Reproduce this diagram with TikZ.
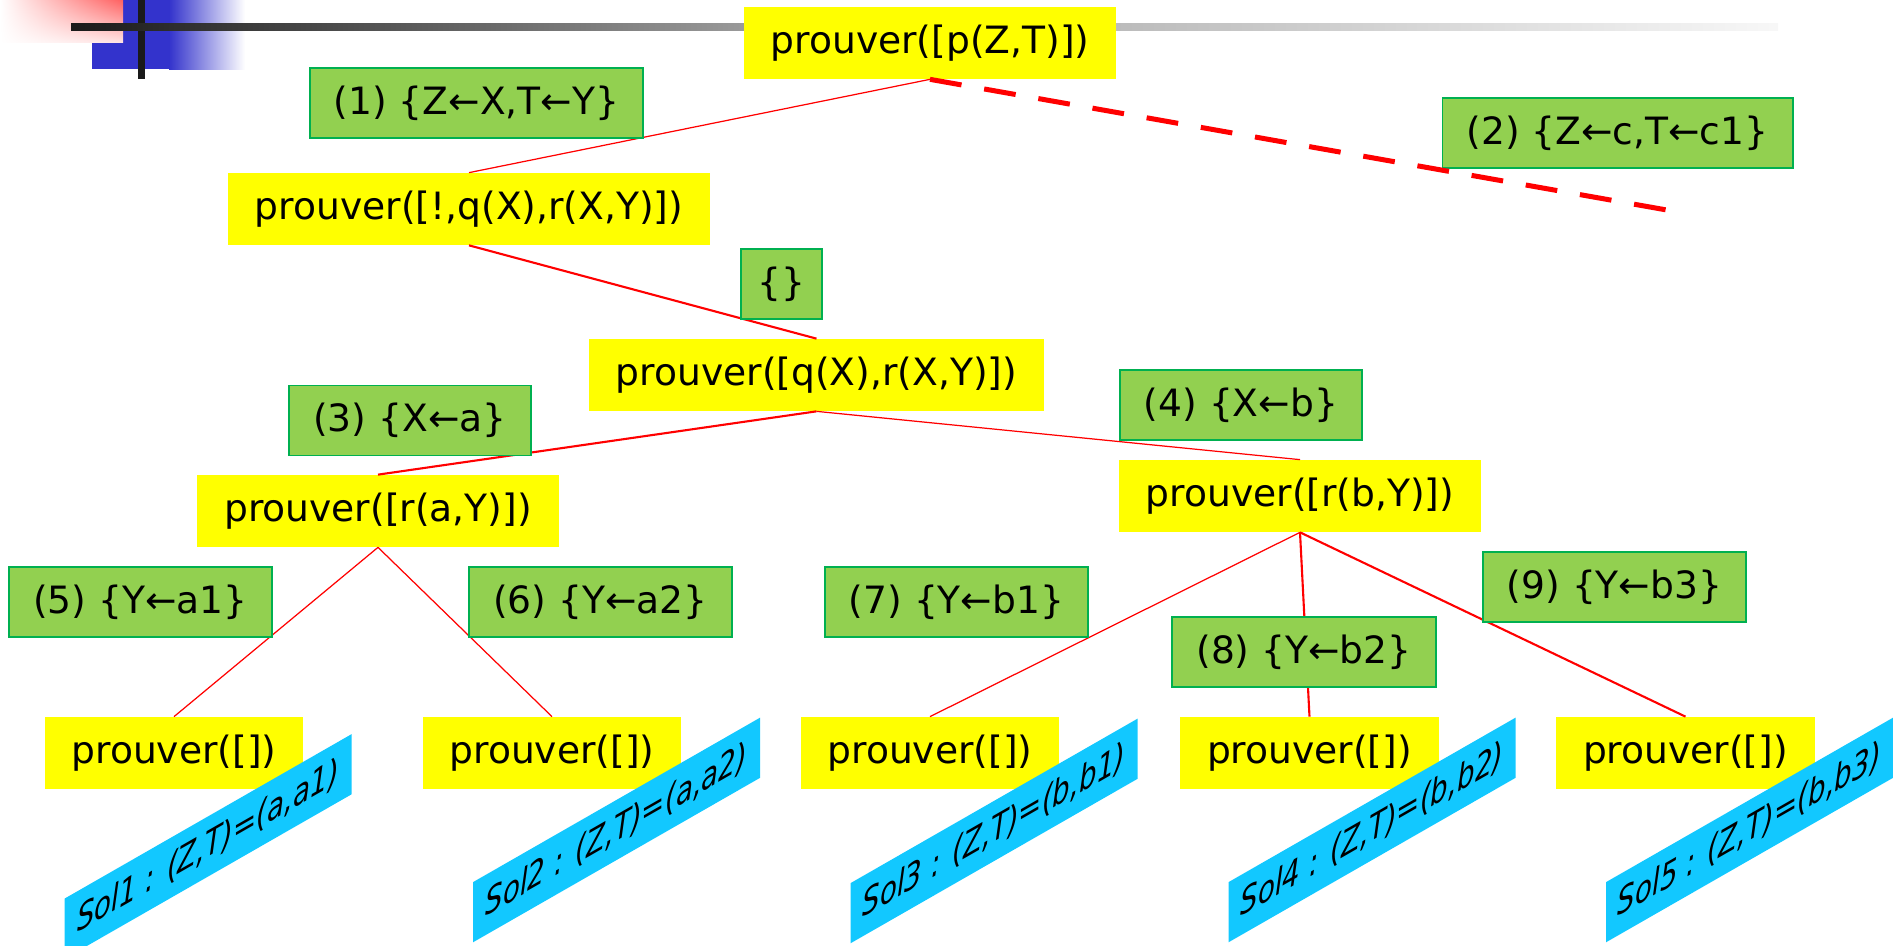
\documentclass[tikz,border=0pt]{standalone}
\usepackage{fontspec}
\setmainfont{DejaVu Sans}
\usetikzlibrary{shadings}
\definecolor{goalyellow}{HTML}{FFFF00}
\definecolor{substgreen}{HTML}{92D050}
\definecolor{substline}{HTML}{00B050}
\definecolor{solblue}{HTML}{12C8FF}
\definecolor{cutred}{HTML}{FF0000}
\definecolor{logoblue}{HTML}{3333CC}
\definecolor{bar}{HTML}{1A1A1A}
\definecolor{barmid}{HTML}{999999}

\begin{document}
\begin{tikzpicture}[
  goal/.style={fill=goalyellow,inner xsep=0.54cm,inner ysep=0pt,
    minimum height=1.44cm,font=\fontsize{21.4}{26}\selectfont},
  subst/.style={fill=substgreen,draw=substline,line width=1.1pt,
    inner xsep=0.48cm,inner ysep=0pt,minimum height=1.4cm,
    font=\fontsize{21.4}{26}\selectfont},
  sol/.style={fill=solblue,inner sep=0pt,minimum width=5.74cm,
    minimum height=0.94cm,yslant=0.573,yscale=1.28,
    font=\itshape\fontsize{15.8}{19}\selectfont},
  branch/.style={draw=cutred,line width=0.7pt},
  branch thick/.style={draw=cutred,line width=1.2pt},
  cutbranch/.style={draw=cutred,line width=2.85pt,
    dash pattern=on 18.2pt off 13.1pt}]
  \useasboundingbox (0,0) rectangle (37.86,-18.92);

  % slide logo and title bar
  \fill[logoblue] (1.84,0) rectangle (3.38,-1.38);
  \shade[upper left=white,upper right=red!62,lower left=white,
    lower right=red!10] (0,0) rectangle (2.46,-0.86);
  \shade[left color=logoblue,right color=white]
    (3.38,0) rectangle (4.9,-1.4);
  \fill[bar] (2.76,0) rectangle (2.9,-1.58);
  \shade[left color=bar,right color=barmid]
    (1.42,-0.48) rectangle (14.82,-0.62);
  \shade[left color=barmid,right color=white!97!black]
    (14.82,-0.48) rectangle (35.56,-0.62);

  % goals of the resolution tree
  \node[goal] (p0) at (18.6,-0.86) {prouver([p(Z,T)])};
  \node[goal] (p1) at (9.38,-4.18) {prouver([!,q(X),r(X,Y)])};
  \node[goal] (p2) at (16.33,-7.5) {prouver([q(X),r(X,Y)])};
  \node[goal] (p3) at (7.56,-10.22) {prouver([r(a,Y)])};
  \node[goal] (p4) at (26.0,-9.92) {prouver([r(b,Y)])};
  \foreach \n/\x in {1/3.48,2/11.04,3/18.6,4/26.19,5/33.71}
    \node[goal] (e\n) at (\x,-15.06) {prouver([])};

  \draw[branch] (p0.south) -- (p1.north);
  \draw[branch thick] (p1.south) -- (p2.north);
  \draw[branch thick] (p2.south) -- (p3.north);
  \draw[branch] (p2.south) -- (p4.north);
  \draw[branch] (p3.south) -- (e1.north);
  \draw[branch] (p3.south) -- (e2.north);
  \draw[branch] (p4.south) -- (e3.north);
  \draw[branch thick] (p4.south) -- (e4.north);
  \draw[branch thick] (p4.south) -- (e5.north);

  % substitutions
  \node[subst] (s1) at (9.53,-2.06) {(1) \{Z←X,T←Y\}};
  \node[subst] (s2) at (32.35,-2.66) {(2) \{Z←c,T←c1\}};
  \node[subst,inner xsep=0.33cm] (s0) at (15.63,-5.68) {\{\}};
  \node[subst] (s3) at (8.2,-8.41) {(3) \{X←a\}};
  \node[subst] (s4) at (24.82,-8.1) {(4) \{X←b\}};
  \node[subst] (s5) at (2.81,-12.04) {(5) \{Y←a1\}};
  \node[subst] (s6) at (12.01,-12.04) {(6) \{Y←a2\}};
  \node[subst] (s7) at (19.13,-12.04) {(7) \{Y←b1\}};
  \node[subst] (s8) at (26.08,-13.04) {(8) \{Y←b2\}};
  \node[subst] (s9) at (32.29,-11.74) {(9) \{Y←b3\}};

  % branch cut by !
  \coordinate (cut) at (33.56,-4.24);
  \draw[cutbranch] (p0.south) -- (cut);

  % solutions
  \node[sol] (sol1) at (4.16,-16.93) {Sol1 : (Z,T)=(a,a1)};
  \node[sol] (sol2) at (12.33,-16.6) {Sol2 : (Z,T)=(a,a2)};
  \node[sol] (sol3) at (19.88,-16.62) {Sol3 : (Z,T)=(b,b1)};
  \node[sol] (sol4) at (27.44,-16.6) {Sol4 : (Z,T)=(b,b2)};
  \node[sol] (sol5) at (34.99,-16.6) {Sol5 : (Z,T)=(b,b3)};
\end{tikzpicture}
\end{document}
